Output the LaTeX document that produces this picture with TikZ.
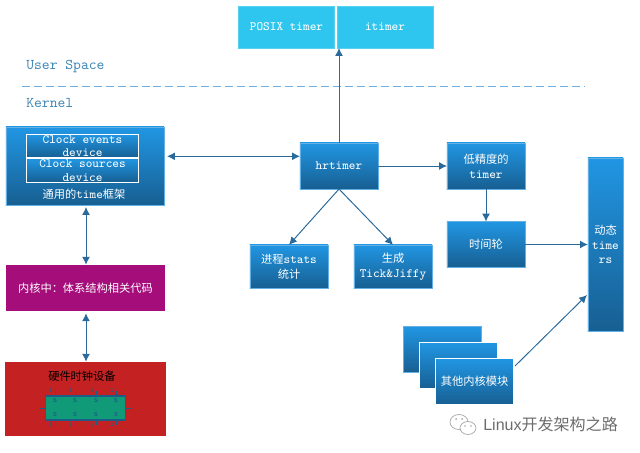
\documentclass[tikz,border=0pt]{standalone}
\usepackage{fontspec}
\renewcommand{\familydefault}{\ttdefault}
\newfontfamily\cjk{Noto Sans CJK SC}
\newfontfamily\markfont{Liberation Sans}
\newcommand{\zh}[1]{{\cjk\fontsize{8}{10.5}\selectfont #1}}
\usetikzlibrary{arrows,arrows.meta}
\definecolor{boxtop}{HTML}{2196E3}
\definecolor{boxbot}{HTML}{175F92}
\definecolor{boxline}{HTML}{62B0E4}
\definecolor{linkblue}{HTML}{2A6A9B}
\definecolor{spacetext}{HTML}{3F86B4}
\definecolor{dashblue}{HTML}{6FAEE0}
\definecolor{skyblue}{HTML}{2EC6EE}
\definecolor{kernpurple}{HTML}{A50D7A}
\definecolor{hwred}{HTML}{C42222}
\definecolor{chipgreen}{HTML}{109A78}
\definecolor{chipline}{HTML}{1D5C86}
\tikzset{
    bluebox/.style = {draw = boxline, line width = 0.4pt, top color = boxtop, bottom color = boxbot, text = white, inner sep = 0pt, outer sep = 0pt, align = center, font = \fontsize{9}{10.5}\selectfont},
    skybox/.style = {fill = skyblue, draw = skyblue!80!white, text = white, inner sep = 0pt, outer sep = 0pt, align = center, font = \fontsize{9}{10.5}\selectfont, minimum width = 2.4cm, minimum height = 1.05cm},
    innerbox/.style = {bluebox, draw = white, line width = 0.7pt, minimum width = 2.82cm, minimum height = 0.59cm, font = \fontsize{9}{9.4}\selectfont},
    tallbox/.style = {bluebox, minimum width = 1.95cm, minimum height = 1.15cm},
    link/.style = {draw = linkblue, line width = 0.7pt, -{Latex[length = 5.6pt, width = 5.6pt]}},
    dlink/.style = {draw = linkblue, line width = 0.7pt, {Latex[length = 5.6pt, width = 5.6pt]}-{Latex[length = 5.6pt, width = 5.6pt]}},
    spacelabel/.style = {text = spacetext, anchor = west, inner sep = 0pt, font = \fontsize{10.6}{12}\selectfont},
    chippin/.style = {draw = chipline, line width = 0.7pt},
    chiptext/.style = {text = chipline, inner sep = 0pt, font = \markfont\bfseries\fontsize{4}{4}\selectfont}
}
\begin{document}
\begin{tikzpicture}[x = 0.025cm, y = -0.025cm]
    \useasboundingbox (0,0) rectangle (640,453);
    % user space
    \node [skybox] (posix) at (286.5,27) {POSIX timer};
    \node [skybox] (itimer) at (385,27) {itimer};
    \node [spacelabel] (user) at (26,66.5) {User Space};
    \node [spacelabel] (kernel) at (26,102.5) {Kernel};
    \coordinate (sepl) at (22,86);
    \coordinate (sepr) at (585,86);
    \draw [draw = dashblue, line width = 0.7pt, dash pattern = on 5.7pt off 2.8pt] (sepl) -- (sepr);
    % left column
    \node [bluebox, minimum width = 3.95cm, minimum height = 1.95cm] (time) at (85,166) {};
    \node [innerbox] (events) at (82.5,146) {Clock events\\device};
    \node [innerbox] (sources) at (82.5,170.5) {Clock sources\\device};
    \node [text = white, inner sep = 0pt, font = \fontsize{9}{10.5}\selectfont] (timelabel) at (84,194) {\zh{通用的}time\zh{框架}};
    \node [fill = kernpurple, text = white, inner sep = 0pt, minimum width = 3.98cm, minimum height = 1.15cm] (arch) at (85.5,288) {\zh{内核中：体系结构相关代码}};
    \node [fill = hwred, inner sep = 0pt, minimum width = 4.03cm, minimum height = 1.85cm] (hw) at (85.5,399) {};
    \node [text = black, inner sep = 0pt] (hwlabel) at (82,376) {\zh{硬件时钟设备}};
    % chip
    \foreach \x in {55,75,96,116} {
        \draw [chippin] (\x,391) -- (\x,396);
        \draw [chippin] (\x,420) -- (\x,425);
        \node [chiptext] at (\x-4,391) {1};
        \node [chiptext] at (\x-4,425) {1};
    }
    \draw [chippin] (40,408) -- (45,408);
    \draw [chippin] (126,408) -- (131,408);
    \node [fill = chipgreen, draw = chipline, line width = 0.8pt, inner sep = 0pt, minimum width = 2.02cm, minimum height = 0.6cm] (chip) at (85.5,408) {};
    \foreach \x in {55,75,96,116} {
        \node [chiptext] at (\x,401) {S};
        \node [chiptext] at (\x,415) {S};
    }
    % timers
    \node [tallbox] (hrtimer) at (339,166) {hrtimer};
    \node [tallbox] (lowres) at (486,166) {\zh{低精度的}\\timer};
    \node [tallbox] (wheel) at (486,244.5) {\zh{时间轮}};
    \node [bluebox, minimum width = 1.95cm, minimum height = 1.08cm] (stats) at (289,266.5) {\zh{进程}stats\\\zh{统计}};
    \node [bluebox, minimum width = 1.95cm, minimum height = 1.08cm] (tick) at (393,266.5) {\zh{生成}\\Tick\&Jiffy};
    \node [bluebox, minimum width = 0.88cm, minimum height = 4.33cm] (dyn) at (605.5,244.5) {\zh{动态}\\time\\rs};
    % other modules
    \node [tallbox] (modc) at (442.5,349.5) {};
    \node [tallbox, draw = white] (modb) at (458.5,365.5) {};
    \node [tallbox, draw = white] (moda) at (474.5,381.5) {\zh{其他内核模块}};
    % links
    \draw [dlink] (time.east |- events.south) ++(3,-1.5) coordinate (ta) -- (hrtimer.west |- ta);
    \draw [dlink] (time.south) ++(1,2) coordinate (tb) -- (tb |- arch.north);
    \draw [dlink] (arch.south) ++(0.5,2) coordinate (tc) -- (tc |- hw.north);
    \draw [link] (hrtimer.north) -- (hrtimer.north |- posix.south);
    \draw [link] (hrtimer.east) -- (lowres.west);
    \draw [link] (lowres.south) -- (wheel.north);
    \draw [link] (wheel.east) -- (wheel.east -| dyn.west);
    \draw [link] (hrtimer.south) -- (stats.north);
    \draw [link] (hrtimer.south) -- (tick.north);
    \coordinate (modout) at (515,366);
    \coordinate (dynin) at (587,295);
    \draw [link] (modout) -- (dynin);
    % watermark
    \draw [gray!70, line width = 0.5pt, fill = white] (459,422) ellipse (9 and 7.5);
    \draw [gray!70, line width = 0.5pt, fill = white] (468,428) ellipse (8 and 6.5);
    \fill [gray!70] (456,419) circle (1) (462,419) circle (1) (465,426) circle (0.8) (471,426) circle (0.8);
    \node [text = gray!85!black, anchor = west, inner sep = 0pt, font = \markfont\fontsize{11.4}{12}\selectfont] (mark) at (483,424) {Linux{\cjk 开发架构之路}};
\end{tikzpicture}
\end{document}
